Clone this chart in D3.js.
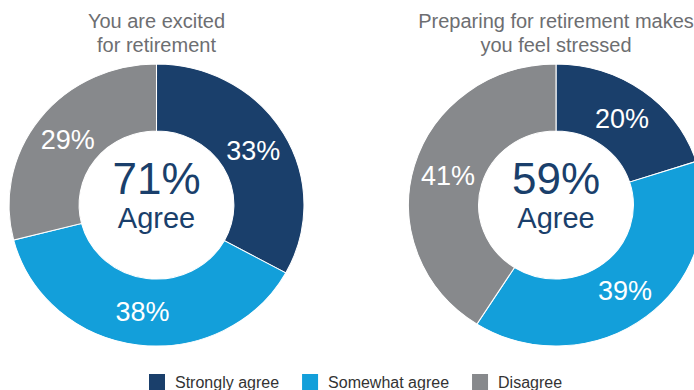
<!DOCTYPE html>
<html>
<head>
<meta charset="utf-8">
<script src="https://cdn.jsdelivr.net/npm/d3@7"></script>
<style>
  body { margin: 0; background: #fff; }
  svg { display: block; font-family: "Liberation Sans", Arial, sans-serif; }
</style>
</head>
<body>
<svg id="chart" width="694" height="390"></svg>
<script>
// data
var categories = ["Strongly agree", "Somewhat agree", "Disagree"];
var excitedValues = [33, 38, 29];
var stressedValues = [20, 39, 41];
var titles = [["You are excited", "for retirement"], ["Preparing for retirement makes", "you feel stressed"]];
var colors = d3.scaleOrdinal()
    .domain(categories)
    .range(["#1a3f6b", "#139fda", "#87898c"]);

var svg = d3.select("#chart");

var outerR = 141, innerR = 74, stretch = 1.046;
var centers = [156.5, 556];
var cy = 205;

var pie = d3.pie().sort(null).value(function (d) { return d.value; });
var arc = d3.arc().innerRadius(innerR).outerRadius(outerR);
var labelArc = d3.arc().innerRadius(107.5).outerRadius(107.5);

[excitedValues, stressedValues].forEach(function (values, k) {
    var data = values.map(function (v, i) { return { name: categories[i], value: v }; });
    var cx = centers[k];

    var g = svg.append("g")
        .attr("transform", "translate(" + cx + "," + cy + ") scale(" + stretch + ",1)");

    g.selectAll("path")
        .data(pie(data))
        .enter()
        .append("path")
        .attr("d", arc)
        .attr("fill", function (d) { return colors(d.data.name); })
        .attr("stroke", "#fff")
        .attr("stroke-width", 1);

    // slice labels, kept outside the stretch so text is not distorted
    svg.append("g")
        .selectAll("text")
        .data(pie(data))
        .enter()
        .append("text")
        .attr("x", function (d) { return cx + labelArc.centroid(d)[0] * stretch; })
        .attr("y", function (d) { return cy + labelArc.centroid(d)[1]; })
        .attr("dy", "0.36em")
        .attr("text-anchor", "middle")
        .attr("fill", "#fff")
        .style("font-size", "27px")
        .text(function (d) { return d.data.value + "%"; });

    // center total of agree
    var agree = values[0] + values[1];
    svg.append("text")
        .attr("x", cx)
        .attr("y", 194)
        .attr("text-anchor", "middle")
        .attr("fill", "#1a3f6b")
        .style("font-size", "44px")
        .text(agree + "%");
    svg.append("text")
        .attr("x", cx)
        .attr("y", 228)
        .attr("text-anchor", "middle")
        .attr("fill", "#1a3f6b")
        .style("font-size", "29px")
        .text("Agree");

    // title
    svg.append("text")
        .attr("text-anchor", "middle")
        .attr("fill", "#6d6e71")
        .style("font-size", "20px")
        .selectAll("tspan")
        .data(titles[k])
        .enter()
        .append("tspan")
        .attr("x", cx)
        .attr("y", function (d, i) { return 28 + i * 24; })
        .text(function (d) { return d; });
});

// legend
var legend = svg.append("g");
var lx = 149;
categories.forEach(function (c) {
    legend.append("rect")
        .attr("x", lx)
        .attr("y", 374)
        .attr("width", 16)
        .attr("height", 16)
        .attr("fill", colors(c));
    var t = legend.append("text")
        .attr("x", lx + 26)
        .attr("y", 388)
        .attr("fill", "#333")
        .style("font-size", "16px")
        .text(c);
    lx += 26 + t.node().getComputedTextLength() + 23;
});
</script>
</body>
</html>
